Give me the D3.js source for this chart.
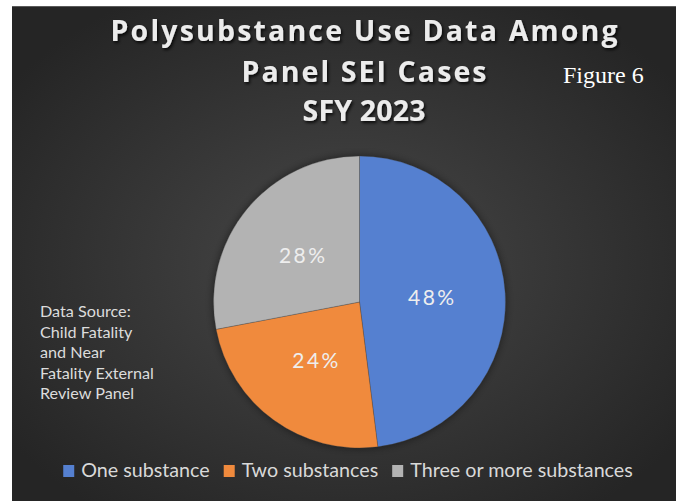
<!DOCTYPE html>
<html>
<head>
<meta charset="utf-8">
<script src="https://cdn.jsdelivr.net/npm/d3@7"></script>
<style>
  html, body { margin: 0; padding: 0; background: #ffffff; }
  svg { display: block; }
</style>
</head>
<body>
<svg id="chart" width="681" height="501"></svg>
<script>
// polysubstance use among panel SEI cases, SFY 2023
var categories = ["One substance", "Two substances", "Three or more substances"];
var shares = [48, 24, 28];
var sliceColors = [
    ["#5580d0", "#2f60bb"],
    ["#f08a3d", "#e86f1a"],
    ["#b3b3b3", "#9a9a9a"]
];
var titleLines = ["Polysubstance Use Data Among", "Panel SEI Cases", "SFY 2023"];
var sourceLines = ["Data Source:", "Child Fatality", "and Near", "Fatality External", "Review Panel"];

var width = 681, height = 501;
var svg = d3.select("#chart");
var defs = svg.append("defs");

// dark chart background, lighter towards the middle
var bg = defs.append("radialGradient")
    .attr("id", "bgGrad")
    .attr("cx", "50%").attr("cy", "52%").attr("r", "62%");
bg.append("stop").attr("offset", "0%").attr("stop-color", "#484848");
bg.append("stop").attr("offset", "100%").attr("stop-color", "#252525");

sliceColors.forEach(function(c, i){
    var g = defs.append("linearGradient")
        .attr("id", "slice" + i)
        .attr("gradientUnits", "userSpaceOnUse")
        .attr("x1", 0).attr("y1", 156).attr("x2", 0).attr("y2", 448);
    g.append("stop").attr("offset", "0%").attr("stop-color", c[0]);
    g.append("stop").attr("offset", "100%").attr("stop-color", c[1]);
});

var shadow = defs.append("filter").attr("id", "titleShadow")
    .attr("x", "-10%").attr("y", "-30%").attr("width", "120%").attr("height", "160%");
shadow.append("feDropShadow")
    .attr("dx", 1.5).attr("dy", 2).attr("stdDeviation", 1.5)
    .attr("flood-color", "#000").attr("flood-opacity", 0.8);

var pieShadow = defs.append("filter").attr("id", "pieShadow")
    .attr("x", "-20%").attr("y", "-20%").attr("width", "140%").attr("height", "140%");
pieShadow.append("feDropShadow")
    .attr("dx", 0).attr("dy", 0).attr("stdDeviation", 4)
    .attr("flood-color", "#000").attr("flood-opacity", 0.5);

svg.append("rect")
    .attr("x", 12).attr("y", 6)
    .attr("width", 664).attr("height", 495)
    .attr("fill", "url(#bgGrad)");
svg.append("line")
    .attr("x1", 12).attr("x2", 676).attr("y1", 6.5).attr("y2", 6.5)
    .attr("stroke", "#5a5a5a").attr("stroke-width", 1);

// title
var titleBase = [41, 82, 121];
var titleWidth = [507, 245, 123];
svg.append("g").attr("filter", "url(#titleShadow)")
    .selectAll("text")
    .data(titleLines)
    .enter()
    .append("text")
    .attr("x", 364)
    .attr("y", function(d, i){ return titleBase[i]; })
    .attr("text-anchor", "middle")
    .attr("textLength", function(d, i){ return titleWidth[i]; })
    .attr("lengthAdjust", "spacing")
    .style("font-family", "'Open Sans', sans-serif")
    .style("font-weight", "bold")
    .style("font-size", "28.5px")
    .attr("fill", "#ececec")
    .text(function(d){ return d; });

svg.append("text")
    .attr("x", 563).attr("y", 83)
    .style("font-family", "'Liberation Serif', 'Times New Roman', serif")
    .style("font-size", "24px")
    .attr("fill", "#ffffff")
    .text("Figure 6");

// pie
var cx = 359.5, cy = 302, radius = 146;
var pie = d3.pie().sort(null).value(function(d){ return d; });
var arc = d3.arc().innerRadius(0).outerRadius(radius);
var arcs = pie(shares);

var gPie = svg.append("g").attr("transform", "translate(" + cx + "," + cy + ")");
gPie.append("circle").attr("r", radius).attr("fill", "#333").attr("filter", "url(#pieShadow)");

// slices are drawn in page space so the gradient runs top to bottom of the pie
var gSlices = svg.append("g");
gSlices.selectAll("path")
    .data(arcs)
    .enter()
    .append("path")
    .attr("d", arc)
    .attr("transform", "translate(" + cx + "," + cy + ")")
    .attr("fill", function(d, i){ return "url(#slice" + i + ")"; })
    .attr("stroke", "rgba(60,60,60,0.5)")
    .attr("stroke-width", 0.6);

gSlices.selectAll("text")
    .data(arcs)
    .enter()
    .append("text")
    .attr("transform", function(d){
        var c = arc.centroid(d);
        return "translate(" + (cx + c[0]) + "," + (cy + c[1]) + ")";
    })
    .attr("dy", "0.35em")
    .attr("text-anchor", "middle")
    .style("font-family", "Lato, sans-serif")
    .style("font-size", "21px")
    .style("letter-spacing", "2.5px")
    .attr("fill", "#eeeeee")
    .text(function(d){ return d.data + "%"; });

// data source note
svg.append("g").selectAll("text")
    .data(sourceLines)
    .enter()
    .append("text")
    .attr("x", 40)
    .attr("y", function(d, i){ return 317 + i * 20.5; })
    .style("font-family", "Lato, sans-serif")
    .style("font-size", "16.2px")
    .attr("fill", "#dcdcdc")
    .text(function(d){ return d; });

// legend
var legend = svg.append("g");
var items = legend.selectAll("g")
    .data(categories)
    .enter()
    .append("g");
items.append("rect")
    .attr("y", 465).attr("width", 11).attr("height", 12)
    .attr("fill", function(d, i){ return sliceColors[i][0]; });
items.append("text")
    .attr("x", 18).attr("y", 477)
    .style("font-family", "Lato, sans-serif")
    .style("font-size", "19.7px")
    .attr("fill", "#d9d9d9")
    .text(function(d){ return d; });
var offset = 0, widths = [];
items.each(function(){
    var w = 18 + d3.select(this).select("text").node().getComputedTextLength();
    widths.push(w);
});
var total = d3.sum(widths) + 14 * (widths.length - 1);
var start = 348 - total / 2;
items.attr("transform", function(d, i){
    var x = start + offset;
    offset += widths[i] + 14;
    return "translate(" + x + ",0)";
});
</script>
</body>
</html>
